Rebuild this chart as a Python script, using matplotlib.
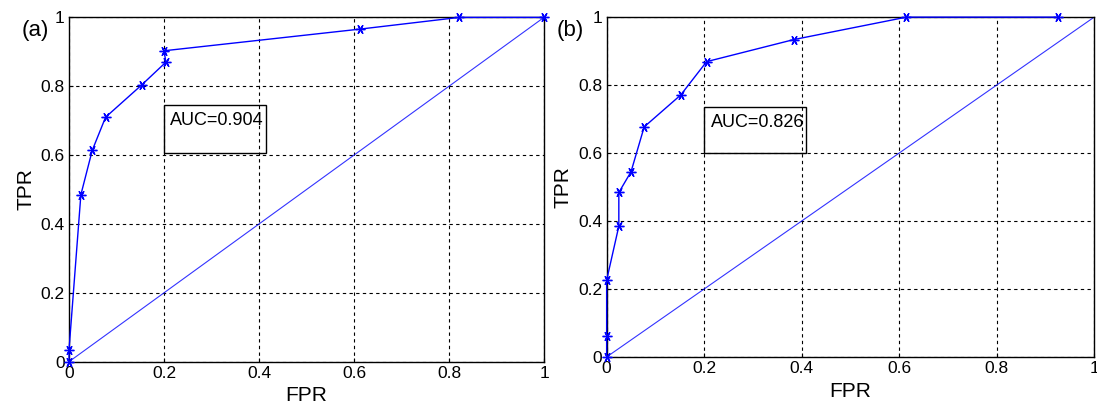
import numpy as np
import matplotlib.pyplot as plt
from matplotlib.patches import Rectangle

plt.rcParams['font.family'] = ['Liberation Sans', 'DejaVu Sans']

# ROC curve (a)
fpr_a = [0, 0, 0.025, 0.049, 0.077, 0.154, 0.204, 0.2, 0.613, 0.822, 1.0]
tpr_a = [0, 0.034, 0.485, 0.614, 0.710, 0.805, 0.870, 0.903, 0.966, 1.0, 1.0]
auc_a = "AUC=0.904"

# ROC curve (b)
fpr_b = [0, 0, 0, 0.025, 0.025, 0.05, 0.077, 0.152, 0.205, 0.384, 0.615, 0.925]
tpr_b = [0, 0.063, 0.226, 0.385, 0.484, 0.545, 0.677, 0.771, 0.869, 0.934, 1.0, 1.0]
auc_b = "AUC=0.826"

ticks = [0, 0.2, 0.4, 0.6, 0.8, 1]
ticklabels = ["0", "0.2", "0.4", "0.6", "0.8", "1"]

fig = plt.figure(figsize=(10.97, 4.07), dpi=100)
ax1 = fig.add_axes([0.0629, 0.1113, 0.433, 0.846])
ax2 = fig.add_axes([0.553, 0.1229, 0.4444, 0.835])

panels = [
    (ax1, fpr_a, tpr_a, auc_a, "(a)", (0.415 - 0.2, 0.606, 0.746), 0.032),
    (ax2, fpr_b, tpr_b, auc_b, "(b)", (0.408 - 0.2, 0.599, 0.735), 0.52),
]

for ax, fx, ty, auc, tag, box, tagx in panels:
    ax.plot([0, 1], [0, 1], color='#0000ff', lw=0.8, alpha=0.8)
    ax.plot(fx, ty, color='#0000ff', lw=1.0, marker=(6, 2, 90), ms=7, mew=1.0,
            clip_on=False, zorder=4)
    ax.set_xlim(0, 1)
    ax.set_ylim(0, 1)
    ax.set_xticks(ticks)
    ax.set_yticks(ticks)
    ax.set_xticklabels(ticklabels)
    ax.set_yticklabels(ticklabels)
    ax.tick_params(direction='in', length=3, labelsize=12.5, pad=3, colors='black')
    ax.grid(True, color='black', linestyle=(0, (3, 3)), lw=0.8)
    for s in ax.spines.values():
        s.set_linewidth(1.0)
    ax.set_xlabel("FPR", fontsize=15, labelpad=4)
    ax.set_ylabel("TPR", fontsize=15, labelpad=4)
    w, y0, y1 = box
    ax.add_patch(Rectangle((0.2, y0), w, y1 - y0, fill=False, edgecolor='black',
                           lw=1.0, zorder=5))
    ax.text(0.213, y1 - 0.02, auc, fontsize=13, va='top', ha='left', zorder=6)
    fig.text(tagx, 0.925, tag, fontsize=16, ha='center', va='center')

fig.savefig("out.png", dpi=100)
